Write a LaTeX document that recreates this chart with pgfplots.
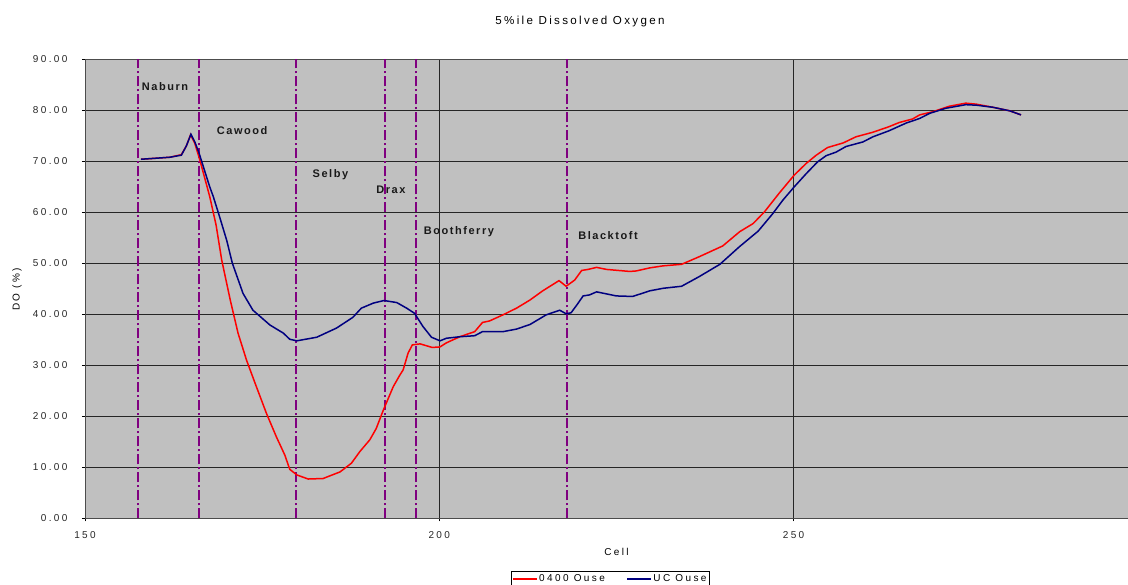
\documentclass[border=0pt]{standalone}
\usepackage{fontspec}
\setmainfont{Liberation Sans}
\newfontfamily\tickfont[LetterSpace=24]{Liberation Sans}
\newfontfamily\titlefont[LetterSpace=20]{Liberation Sans}
\newfontfamily\stfont[LetterSpace=14]{Liberation Sans}
\usepackage{pgfplots}
\pgfplotsset{compat=1.18}
\definecolor{bg}{RGB}{192,192,192}
\definecolor{dored}{RGB}{255,0,0}
\definecolor{doblue}{RGB}{0,0,128}
\definecolor{stpurple}{RGB}{128,0,128}
\begin{document}
\begin{tikzpicture}
\begin{axis}[
  scale only axis,
  width=1043pt, height=459pt,
  xmin=150, xmax=297.2, ymin=0, ymax=90,
  xtick={150,200,250}, ytick={0,10,...,90},
  xtick pos=bottom, ytick pos=left,
  /pgf/number format/assume math mode=true,
  ticklabel style={font=\fontsize{10}{12}\tickfont, text=black!85},
  xticklabel style={yshift=-7pt},
  yticklabel style={/pgf/number format/fixed, /pgf/number format/fixed zerofill, /pgf/number format/precision=2, xshift=-11pt},
  tick align=outside, major tick length=3pt,
  tick style={black, line width=0.8pt},
  axis background/.style={fill=bg},
  ymajorgrids, xmajorgrids,
  major grid style={black!85, line width=0.7pt},
  axis line style={black!70, line width=0.9pt},
  unbounded coords=jump,
  title={5\%ile Dissolved Oxygen},
  title style={font=\fontsize{11.6}{14}\titlefont, at={(axis description cs:0.4746,1.0623)}, anchor=base},
  xlabel={Cell},
  xlabel style={font=\fontsize{10}{12}\tickfont, at={(axis description cs:0.5096,-0.0821)}, anchor=base},
  ylabel={DO (\%)},
  ylabel style={font=\fontsize{10}{12}\tickfont, at={(axis description cs:-0.0652,0.499)}, anchor=center, rotate=0},
  legend columns=2,
  legend style={at={(axis description cs:0.4084,-0.1155)}, anchor=north west,
    font=\fontsize{10}{12}\tickfont,
    inner xsep=1pt, inner ysep=2pt, nodes={inner sep=1.5pt},
    /tikz/every even column/.append style={column sep=20pt}},
  legend image code/.code={\draw[mark repeat=2,mark phase=2,#1] plot coordinates {(0pt,0pt) (12pt,0pt) (24pt,0pt)};},
  clip=false,
]
% station lines
\addplot[stpurple, line width=2pt, dash pattern=on 10pt off 3pt on 2pt off 3pt, forget plot] coordinates {
(157.5,0) (157.5,90) (157.5,nan)
(166.1,0) (166.1,90) (166.1,nan)
(179.8,0) (179.8,90) (179.8,nan)
(192.3,0) (192.3,90) (192.3,nan)
(196.7,0) (196.7,90) (196.7,nan)
(218.0,0) (218.0,90)};

\addplot[dored, line width=1.5pt] coordinates {
(157.9,70.4) (160,70.6) (162,70.8) (163.6,71.3) (164.3,73.0) (164.9,75.2) (165.5,73.5) (166.2,70.3) (167.6,63.1) (168.5,57.5) (169.3,50.6) (170.5,42.8) (171.6,36.3) (172.8,31.0) (174.0,26.5) (175.6,20.6) (177.0,16.0) (178.2,12.4) (178.9,9.6) (179.9,8.5) (181.5,7.7) (183.6,7.8) (186.0,9.1) (187.6,10.8) (188.8,13.1) (190.2,15.4) (191.1,17.6) (192.1,21.2) (193.5,25.8) (194.4,28.0) (194.9,29.1) (195.6,32.4) (196.2,34.0) (197.3,34.2) (199.0,33.5) (200.1,33.6) (201.0,34.4) (202.9,35.6) (205.0,36.6) (206.1,38.4) (207.1,38.7) (209.0,39.9) (210.9,41.2) (212.8,42.8) (214.6,44.6) (216.9,46.6) (217.9,45.5) (219.1,46.7) (220.1,48.6) (221.0,48.8) (222.2,49.2) (223.6,48.8) (226.9,48.4) (227.8,48.5) (229.7,49.1) (231.6,49.5) (234.2,49.8) (236.7,51.3) (240.0,53.4) (242.4,56.2) (244.3,57.8) (245.9,60.1) (248.0,63.8) (250.1,67.3) (251.8,69.6) (253.2,71.2) (254.8,72.7) (257.0,73.6) (258.8,74.8) (261.2,75.7) (263.5,76.8) (264.9,77.6) (266.8,78.3) (267.8,79.1) (269.6,79.7) (272.0,80.8) (274.3,81.4) (275.8,81.2) (278.1,80.6) (280.5,79.9) (282.1,79.1)
};
\addlegendentry{0400 Ouse}
\addplot[doblue, line width=1.5pt] coordinates {
(157.9,70.4) (160,70.6) (162,70.8) (163.6,71.2) (164.3,73.0) (164.95,75.3) (165.5,73.8) (166.1,71.6) (167.6,65.0) (168.1,63.1) (169.0,59.1) (170.0,54.5) (170.8,50.0) (172.3,44.1) (173.7,40.8) (176.1,37.9) (178.0,36.3) (178.9,35.1) (179.9,34.8) (182.7,35.5) (185.5,37.3) (187.8,39.4) (189.0,41.2) (190.7,42.2) (192.2,42.7) (194.0,42.3) (195.4,41.2) (196.5,40.2) (197.7,37.6) (198.9,35.5) (200.1,34.8) (201.0,35.3) (202.9,35.6) (205.0,35.8) (206.1,36.6) (209.0,36.6) (210.9,37.1) (212.8,38.0) (215.1,39.9) (217.0,40.8) (217.9,40.1) (218.6,40.3) (219.4,41.8) (220.3,43.6) (221.2,43.8) (222.2,44.4) (223.6,44.0) (225.0,43.6) (227.3,43.5) (229.7,44.6) (231.6,45.1) (234.2,45.5) (236.7,47.4) (239.6,49.8) (242.4,53.3) (245.0,56.3) (247.1,59.8) (248.5,62.4) (250.1,65.0) (251.8,67.6) (253.4,69.9) (254.6,71.1) (256.0,71.8) (257.4,72.9) (259.8,73.8) (261.2,74.8) (263.5,76.0) (265.9,77.5) (267.8,78.4) (269.2,79.4) (271.5,80.4) (274.3,81.1) (275.8,81.0) (278.1,80.6) (280.5,79.9) (282.1,79.1)
};
\addlegendentry{UC Ouse}

\begin{scope}[every node/.style={font=\fontsize{11}{12}\stfont\bfseries, text=black!90, inner sep=0pt, anchor=base west}]
\node at (axis cs:158.0,83.8) {Naburn};
\node at (axis cs:168.6,75.2) {Cawood};
\node at (axis cs:182.1,66.9) {Selby};
\node at (axis cs:191.1,63.7) {Drax};
\node at (axis cs:197.8,55.7) {Boothferry};
\node at (axis cs:219.6,54.7) {Blacktoft};
\end{scope}
\end{axis}
\pgfresetboundingbox
\useasboundingbox (-85pt,-66.7pt) rectangle (1043pt,518.3pt);
\end{tikzpicture}
\end{document}
